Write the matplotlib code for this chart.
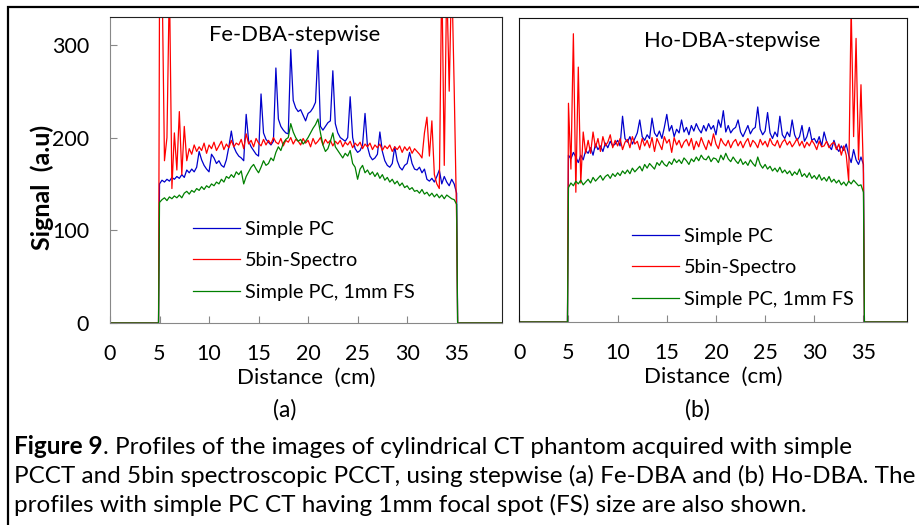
import numpy as np
import matplotlib
matplotlib.use('Agg')
from matplotlib import pyplot as plt
from matplotlib.patches import Rectangle

plt.rcParams['font.family'] = ['Lato', 'DejaVu Sans']

# profile sampled every 0.25 cm from 5 to 35 cm (4 values per cm row, last value at 35 cm)
PROFILE_X = np.arange(5.0, 35.001, 0.25)
# outside the phantom the signal is zero
ZERO_LEFT_X = [0.0, 4.9]
ZERO_RIGHT_X = [35.1, 40.0]

FE_SIMPLE_PC = [
    150, 154, 152, 155,  153, 157, 155, 158,  156, 160, 157, 165,
    162, 166, 163, 168,  185, 176, 170, 166,  163, 182, 178, 172,
    175, 170, 168, 176,  190, 207, 190, 184,  180, 178, 175, 225,
    196, 190, 186, 182,  180, 247, 205, 198,  195, 192, 196, 275,
    220, 212, 208, 205,  204, 295, 240, 232,  228, 230, 224, 218,
    226, 228, 232, 238,  294, 212, 208, 212,  216, 218, 272, 215,
    205, 200, 198, 196,  200, 244, 200, 188,  184, 186, 192, 226,
    190, 180, 176, 178,  182, 206, 185, 175,  170, 168, 172, 190,
    175, 168, 165, 170,  172, 184, 172, 166,  165, 168, 162, 166,
    155, 153, 156, 152,  158, 165, 150, 158,  152, 148, 155, 150,
    140,
]
FE_SPECTRO = [
    360, 380, 175, 200,  370, 145, 205, 165,  228, 160, 212, 175,
    188, 182, 192, 185,  190, 186, 194, 183,  192, 188, 195, 186,
    191, 196, 187, 193,  189, 197, 190, 194,  192, 198, 188, 204,
    193, 197, 190, 199,  194, 191, 198, 192,  197, 193, 200, 195,
    193, 199, 191, 197,  195, 200, 193, 198,  196, 192, 199, 194,
    197, 190, 199, 193,  196, 200, 192, 198,  194, 197, 191, 196,
    193, 197, 190, 195,  192, 196, 189, 194,  191, 195, 188, 193,
    190, 194, 187, 192,  189, 193, 186, 191,  188, 192, 185, 190,
    187, 191, 184, 190,  186, 190, 183, 188,  185, 182, 178, 205,
    222, 180, 218, 160,  150, 145, 380, 170,  370, 250, 380, 255,
    110,
]
FE_SIMPLE_PC_1MM = [
    130, 133, 135, 132,  136, 134, 137, 135,  138, 135, 140, 142,
    139, 143, 141, 145,  143, 147, 144, 148,  146, 150, 148, 152,
    150, 155, 152, 158,  156, 160, 157, 163,  160, 164, 150, 158,
    163, 168, 171, 166,  162, 168, 175, 170,  172, 178, 175, 184,
    190, 186, 194, 198,  200, 215, 206, 200,  196, 198, 193, 196,
    200, 205, 210, 214,  220, 205, 192, 185,  188, 196, 205, 190,
    186, 182, 178, 183,  180, 186, 172, 168,  155, 166, 170, 162,
    165, 160, 163, 158,  162, 156, 160, 154,  157, 152, 155, 150,
    153, 148, 151, 146,  148, 144, 146, 142,  143, 140, 144, 139,
    141, 137, 140, 136,  139, 135, 138, 134,  138, 136, 134, 133,
    128,
]

HO_SIMPLE_PC = [
    180, 176, 183, 178,  172, 180, 175, 185,  182, 188, 180, 192,
    186, 190, 184, 193,  188, 195, 190, 192,  196, 190, 222, 198,
    194, 200, 192, 198,  204, 218, 200, 196,  202, 198, 220, 204,
    200, 206, 198, 210,  224, 206, 212, 200,  208, 204, 218, 205,
    210, 202, 212, 206,  214, 208, 204, 212,  206, 214, 208, 212,
    202, 218, 210, 228,  205, 212, 204, 208,  210, 218, 205, 200,
    206, 212, 203, 208,  210, 232, 208, 202,  206, 226, 204, 198,
    205, 200, 222, 202,  198, 205, 200, 218,  202, 196, 200, 212,
    195, 200, 210, 196,  198, 193, 200, 190,  205, 195, 190, 186,
    196, 188, 184, 190,  185, 192, 180, 172,  186, 175, 170, 178,
    170,
]
HO_SPECTRO = [
    236, 165, 311, 140,  275, 150, 205, 182,  196, 182, 205, 188,
    198, 184, 200, 190,  194, 202, 188, 196,  190, 198, 186, 194,
    197, 188, 200, 192,  195, 186, 198, 190,  196, 188, 199, 184,
    198, 192, 186, 200,  193, 197, 183, 199,  191, 196, 188, 194,
    197, 190, 198, 186,  195, 189, 199, 192,  186, 196, 190, 203,
    192, 187, 198, 193,  190, 196, 188, 194,  197, 190, 195, 188,
    194, 198, 189, 196,  193, 188, 197, 191,  195, 189, 198, 192,
    190, 196, 188, 194,  197, 191, 195, 189,  193, 198, 190, 195,
    188, 194, 190, 196,  192, 186, 195, 189,  190, 195, 188, 192,
    194, 186, 192, 180,  190, 180, 152, 340,  200, 306, 175, 256,
    160,
]
HO_SIMPLE_PC_1MM = [
    145, 150, 147, 152,  149, 153, 148, 151,  154, 150, 156, 152,
    155, 158, 153, 157,  159, 155, 160, 157,  161, 158, 163, 160,
    164, 160, 166, 162,  165, 168, 163, 170,  166, 171, 168, 165,
    172, 169, 174, 170,  168, 173, 170, 176,  172, 175, 171, 177,
    174, 170, 176, 173,  178, 174, 180, 176,  175, 179, 173, 177,
    176, 172, 180, 175,  182, 176, 173, 178,  174, 171, 176, 170,
    173, 169, 175, 171,  168, 178, 170, 166,  170, 165, 168, 163,
    166, 162, 167, 161,  164, 160, 163, 158,  162, 159, 165, 157,
    160, 156, 161, 155,  158, 154, 159, 153,  156, 152, 157, 151,
    154, 150, 153, 148,  151, 147, 152, 149,  153, 150, 147, 148,
    140,
]

SERIES_LABELS = ['Simple PC', '5bin-Spectro', 'Simple PC, 1mm FS']
SERIES_COLORS = ['#0000CC', '#FF0000', '#008000']
X_TICKS = [0, 5, 10, 15, 20, 25, 30, 35]
Y_TICKS = [0, 100, 200, 300]

W, H = 919, 525


def full_profile(values):
    xs = list(ZERO_LEFT_X) + list(PROFILE_X) + list(ZERO_RIGHT_X)
    ys = [0, 0] + list(values) + [0, 0]
    return xs, ys


def draw_panel(ax, series, title, title_xy, legend_xy, xmax, ymax, show_y):
    for values, label, color in zip(series, SERIES_LABELS, SERIES_COLORS):
        xs, ys = full_profile(values)
        ax.plot(xs, ys, color=color, lw=0.9, label=label)
    ax.set_xlim(0, xmax)
    ax.set_ylim(0, ymax)
    ax.set_xticks(X_TICKS)
    ax.tick_params(axis='x', direction='in', length=5, color='#888888',
                   labelsize=15.5, pad=15)
    if show_y:
        ax.set_yticks(Y_TICKS)
        ax.tick_params(axis='y', direction='in', length=5, color='#888888',
                       labelsize=15.5, pad=15)
        ax.set_ylabel('Signal  (a.u)', fontsize=18, fontweight='bold', va='center')
        ax.yaxis.set_label_coords(-0.174, 0.444)
        for side in ('left', 'bottom'):
            ax.spines[side].set_color('#888888')
        for side in ('top', 'right'):
            ax.spines[side].set_color('#222222')
    else:
        ax.set_yticks([])
        for side in ('left', 'top', 'right'):
            ax.spines[side].set_color('#111111')
        ax.spines['bottom'].set_color('#888888')
    ax.set_xlabel('Distance  (cm)', fontsize=16, labelpad=3)
    ax.text(title_xy[0] / W, 1 - title_xy[1] / H, title, transform=ax.figure.transFigure,
            ha='center', va='center', fontsize=15.8)
    ax.legend(frameon=False, loc='upper left', fontsize=14.3,
              bbox_to_anchor=(legend_xy[0] / W, 1 - legend_xy[1] / H),
              bbox_transform=ax.figure.transFigure,
              borderpad=0, borderaxespad=0, handlelength=2.36, handletextpad=0.25,
              labelspacing=0.72)


fig = plt.figure(figsize=(W / 100, H / 100), dpi=100)

ax_fe = fig.add_axes([110 / W, 1 - 323 / H, (501.7 - 110) / W, (323 - 17) / H])
ax_ho = fig.add_axes([519.3 / W, 1 - 322 / H, (906.7 - 519.3) / W, (322 - 18) / H])

draw_panel(ax_fe, [FE_SIMPLE_PC, FE_SPECTRO, FE_SIMPLE_PC_1MM], 'Fe-DBA-stepwise',
           (295, 35), (193, 221), 39.55, 330, True)
draw_panel(ax_ho, [HO_SIMPLE_PC, HO_SPECTRO, HO_SIMPLE_PC_1MM], 'Ho-DBA-stepwise',
           (732, 41), (632, 228), 39.4, 328, False)

# outer frame of the figure box
fig.patches.append(Rectangle((8 / W, -0.05), 1.1, 1 - 7 / H + 0.05, transform=fig.transFigure,
                             fill=False, edgecolor='black', lw=1.6))

fig.text(285 / W, 1 - 410 / H, '(a)', ha='center', va='center', fontsize=16.5)
fig.text(697 / W, 1 - 410 / H, '(b)', ha='center', va='center', fontsize=16.5)

caption_lines = [
    ('Figure 9', '. Profiles of the images of cylindrical CT phantom acquired with simple'),
    ('', 'PCCT and 5bin spectroscopic PCCT, using stepwise (a) Fe-DBA and (b) Ho-DBA. The'),
    ('', 'profiles with simple PC CT having 1mm focal spot (FS) size are also shown.'),
]
baselines = [454, 483, 512]
renderer = fig.canvas.get_renderer()
for (bold, rest), base in zip(caption_lines, baselines):
    x = 14 / W
    y = 1 - base / H
    if bold:
        t = fig.text(x, y, bold, fontsize=17.5, fontweight='bold', va='baseline')
        bb = t.get_window_extent(renderer)
        x = bb.x1 / fig.bbox.width
    fig.text(x, y, rest, fontsize=17.5, va='baseline')

fig.savefig('out.png', dpi=100)
